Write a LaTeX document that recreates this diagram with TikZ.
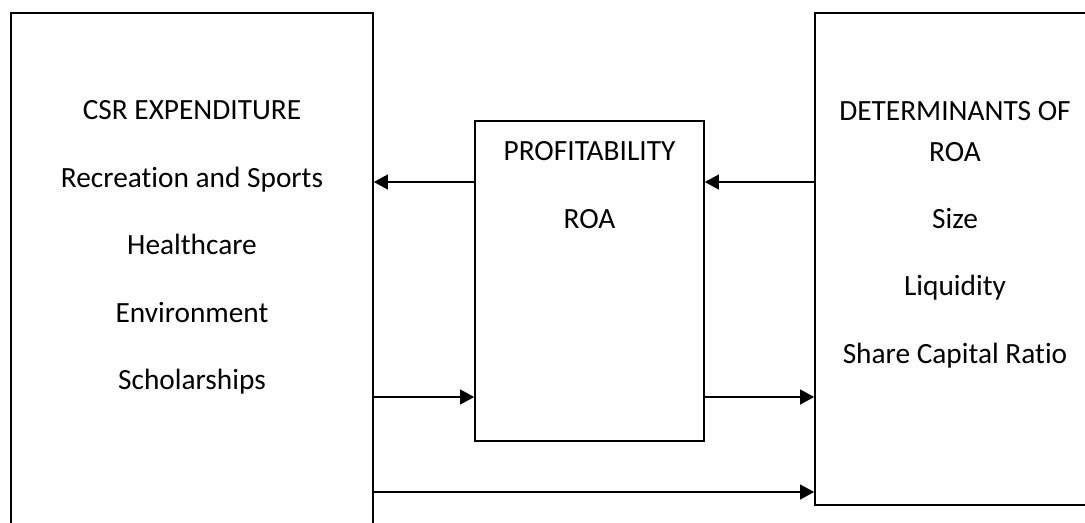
\documentclass[tikz,border=0pt]{standalone}
\usepackage{fontspec}
\setmainfont{Carlito}[Ligatures=NoCommon]
\usetikzlibrary{arrows.meta}

\tikzstyle{csr_style}=[x=0.75pt,y=-0.75pt,
  box/.style={rectangle,draw,line width=1.2pt,inner sep=0pt},
  txt/.style={font=\fontsize{22}{26}\selectfont,inner sep=0pt,anchor=base},
  arr/.style={-{Triangle[length=10.5pt,width=11pt]},line width=1.5pt}]

\begin{document}
\begin{tikzpicture}[csr_style]
    \useasboundingbox (0,0) rectangle (1085,522);
    \clip (0,0) rectangle (1085,522);

    % Draw the three boxes (outer ones run off the page)
    \node[box, minimum width=362*0.75pt, minimum height=560*0.75pt] (csr) at (192,293) {};
    \node[box, minimum width=229*0.75pt, minimum height=320*0.75pt] (prof) at (589.5,281) {};
    \node[box, minimum width=280*0.75pt, minimum height=492*0.75pt] (det) at (955,259) {};

    % Texts of the left box
    \foreach \txt [count=\i from 0] in {CSR EXPENDITURE, Recreation and Sports, Healthcare, Environment, Scholarships}
        \node[txt] (C-\i) at (192, 119.5+67.5*\i) {\txt};

    % Texts of the middle box
    \node[txt] (P-0) at (589.5,160) {PROFITABILITY};
    \node[txt] (P-1) at (589.5,228) {ROA};

    % Texts of the right box
    \node[txt] (D-0) at (955,120) {DETERMINANTS OF};
    \node[txt] (D-1) at (955,161) {ROA};
    \foreach \txt [count=\i from 2] in {Size, Liquidity, Share Capital Ratio}
        \node[txt] (D-\i) at (955, 228+67.5*\i-135) {\txt};

    % Rows the arrows run along
    \coordinate (upper) at (0,182);
    \coordinate (lower) at (0,397);
    \coordinate (bottom) at (0,492);

    \draw[arr] (prof.west |- upper) -- (csr.east |- upper);
    \draw[arr] (det.west |- upper) -- (prof.east |- upper);
    \draw[arr] (csr.east |- lower) -- (prof.west |- lower);
    \draw[arr] (prof.east |- lower) -- (det.west |- lower);
    \draw[arr] (csr.east |- bottom) -- (det.west |- bottom);

\end{tikzpicture}
\end{document}
